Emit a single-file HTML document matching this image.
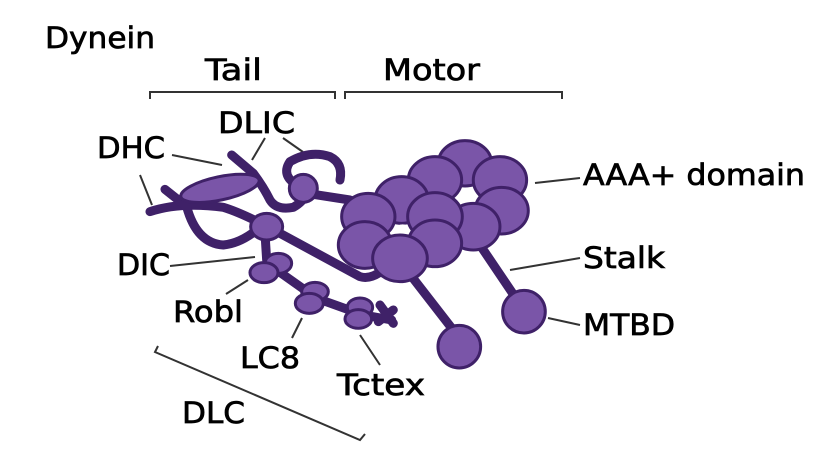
<!DOCTYPE html>
<html><head><meta charset="utf-8"><style>
html,body{margin:0;padding:0;background:#fff;}
svg{display:block;}
text{font-family:"DejaVu Sans","Liberation Sans",sans-serif;font-size:29px;fill:#000;stroke:#000;stroke-width:0.7px;}
</style></head><body>
<svg width="835" height="464" viewBox="0 0 835 464" xmlns="http://www.w3.org/2000/svg">
<text x="45" y="48" textLength="110" lengthAdjust="spacingAndGlyphs">Dynein</text>
<text x="205" y="80" textLength="57" lengthAdjust="spacingAndGlyphs">Tail</text>
<text x="383" y="80" textLength="97" lengthAdjust="spacingAndGlyphs">Motor</text>
<g fill="none" stroke="#333" stroke-width="2">
<path d="M150,99 V92 H335 V99"/>
<path d="M345,99 V92 H562 V99"/>
<path d="M158,346 L155,352 L360,440 L365,434"/>
<line x1="172" y1="155" x2="222" y2="165"/>
<line x1="140" y1="175" x2="152" y2="205"/>
<line x1="265" y1="138" x2="252" y2="160"/>
<line x1="283" y1="138" x2="303" y2="152"/>
<line x1="535" y1="183" x2="580" y2="178"/>
<line x1="510" y1="270" x2="580" y2="258"/>
<line x1="548" y1="318" x2="580" y2="325"/>
<line x1="170" y1="266" x2="255" y2="257"/>
<line x1="226" y1="294" x2="248" y2="280"/>
<line x1="292" y1="338" x2="302" y2="318"/>
<line x1="380" y1="365" x2="360" y2="335"/>
</g>
<text x="97" y="158" textLength="68" lengthAdjust="spacingAndGlyphs">DHC</text>
<text x="218" y="133" textLength="77" lengthAdjust="spacingAndGlyphs">DLIC</text>
<text x="583" y="185" textLength="222" lengthAdjust="spacingAndGlyphs">AAA+ domain</text>
<text x="583" y="268" textLength="82" lengthAdjust="spacingAndGlyphs">Stalk</text>
<text x="583" y="335" textLength="92" lengthAdjust="spacingAndGlyphs">MTBD</text>
<text x="117" y="275" textLength="53" lengthAdjust="spacingAndGlyphs">DIC</text>
<text x="173" y="322" textLength="70" lengthAdjust="spacingAndGlyphs">Robl</text>
<text x="240" y="368" textLength="60" lengthAdjust="spacingAndGlyphs">LC8</text>
<text x="337" y="395" textLength="88" lengthAdjust="spacingAndGlyphs">Tctex</text>
<text x="182" y="423" textLength="63" lengthAdjust="spacingAndGlyphs">DLC</text>
<g transform="translate(130,120) scale(0.3333)">
<g fill="none" stroke="#3f2168" stroke-width="27" stroke-linecap="round" stroke-linejoin="round">
<path d="M60,275 Q150,245 280,262 Q340,280 450,340 L690,470 Q720,480 760,450"/>
<path d="M105,208 L170,260 Q200,370 280,375 Q330,370 380,330"/>
<path d="M305,105 L370,160 Q400,200 420,240 Q440,272 490,262 Q520,245 530,220 L660,240"/>
<path d="M510,200 Q450,170 480,125 Q540,90 600,110 Q640,130 630,180"/>
<path d="M405,340 L410,420 Q420,440 440,450 L560,535 L700,585 L785,600"/>
<path d="M750,555 L790,610 M745,605 L790,570"/>
<path d="M830,450 L985,650"/>
<path d="M1040,360 L1175,560"/>
</g>
<g fill="#7a55a8" stroke="#3f2168" stroke-width="9">
<ellipse cx="270" cy="205" rx="120" ry="35" transform="rotate(-12 270 205)"/>
<circle cx="520" cy="205" r="42"/>
<ellipse cx="410" cy="320" rx="48" ry="40"/>
<ellipse cx="445" cy="430" rx="40" ry="30"/>
<ellipse cx="402" cy="458" rx="42" ry="30"/>
<ellipse cx="555" cy="515" rx="40" ry="28"/>
<ellipse cx="538" cy="550" rx="42" ry="30"/>
<ellipse cx="690" cy="562" rx="38" ry="28"/>
<ellipse cx="685" cy="597" rx="40" ry="28"/>
<circle cx="988" cy="680" r="64"/>
<circle cx="1182" cy="575" r="64"/>
<ellipse cx="1005" cy="130" rx="80" ry="68"/>
<ellipse cx="1110" cy="180" rx="80" ry="70"/>
<ellipse cx="1115" cy="272" rx="80" ry="70"/>
<ellipse cx="1030" cy="320" rx="80" ry="70"/>
<ellipse cx="915" cy="180" rx="80" ry="70"/>
<ellipse cx="815" cy="240" rx="80" ry="70"/>
<ellipse cx="715" cy="290" rx="80" ry="70"/>
<ellipse cx="915" cy="290" rx="82" ry="72"/>
<ellipse cx="705" cy="375" rx="80" ry="70"/>
<ellipse cx="915" cy="370" rx="80" ry="70"/>
<ellipse cx="810" cy="415" rx="82" ry="70"/>
</g>
<ellipse cx="1010" cy="225" rx="18" ry="12" fill="#fff"/>
<ellipse cx="818" cy="325" rx="18" ry="12" fill="#fff"/>
</g>
</svg>
</body></html>
